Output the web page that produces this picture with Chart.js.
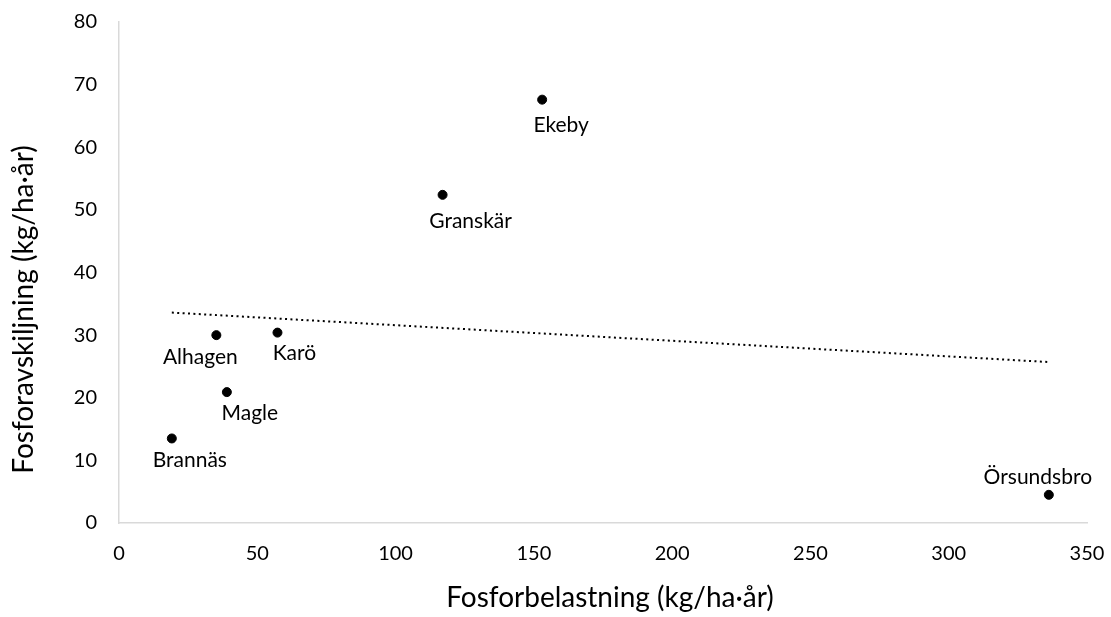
<!DOCTYPE html>
<html>
<head>
<meta charset="utf-8">
<script src="https://cdn.jsdelivr.net/npm/chart.js@4.4.1/dist/chart.umd.min.js"></script>
<style>
  html, body { margin: 0; padding: 0; background: #ffffff; }
  #wrap { width: 1111px; height: 617px; }
</style>
</head>
<body>
<div id="wrap"><canvas id="c" width="1111" height="617"></canvas></div>
<script>
// Wetlands: phosphorus load vs. phosphorus retention
const sites = ['Brannäs', 'Alhagen', 'Magle', 'Karö', 'Granskär', 'Ekeby', 'Örsundsbro'];
const load = [19.1, 35.2, 39.0, 57.3, 117.0, 153.0, 336.2];       // kg/ha·år
const retention = [13.5, 30.0, 20.9, 30.4, 52.4, 67.6, 4.5];     // kg/ha·år

// Linear trend line end points
const trendX = [19.1, 336.2];
const trendY = [33.6, 25.7];

const xTicks = [0, 50, 100, 150, 200, 250, 300, 350];
const yTicks = [0, 10, 20, 30, 40, 50, 60, 70, 80];

const xTitle = 'Fosforbelastning (kg/ha·år)';
const yTitle = 'Fosforavskiljning (kg/ha·år)';

const FONT = 'Lato, "Open Sans", sans-serif';

// Where each site name sits relative to its marker (px)
const labelPlacement = {
  'Brannäs':    [18, 22],
  'Alhagen':    [-16, 22],
  'Magle':      [23, 21],
  'Karö':       [17, 21],
  'Granskär':   [28, 26],
  'Ekeby':      [19, 26],
  'Örsundsbro': [-11, -18]
};

const siteLabels = {
  id: 'siteLabels',
  afterDatasetsDraw(chart) {
    const ctx = chart.ctx;
    const meta = chart.getDatasetMeta(0);
    ctx.save();
    ctx.font = '21px ' + FONT;
    ctx.fillStyle = '#000000';
    ctx.textAlign = 'center';
    ctx.textBaseline = 'middle';
    meta.data.forEach((pt, i) => {
      const name = sites[i];
      const [dx, dy] = labelPlacement[name];
      ctx.fillText(name, pt.x + dx, pt.y + dy);
    });
    ctx.restore();
  }
};

// Axis titles, placed in the margins around the plot area
const axisTitles = {
  id: 'axisTitles',
  afterDraw(chart) {
    const ctx = chart.ctx;
    const area = chart.chartArea;
    ctx.save();
    ctx.font = '28px ' + FONT;
    ctx.fillStyle = '#000000';
    ctx.textAlign = 'center';
    ctx.textBaseline = 'middle';
    ctx.fillText(xTitle, (area.left + area.right) / 2 + 7, area.bottom + 75);
    ctx.translate(24, (area.top + area.bottom) / 2 + 37);
    ctx.rotate(-Math.PI / 2);
    ctx.fillText(yTitle, 0, 0);
    ctx.restore();
  }
};

// Keep the plot area edges fixed: no extra room for overhanging tick labels
function noOverhang(s) {
  s.paddingTop = 0;
  s.paddingBottom = 0;
  s.paddingLeft = 0;
  s.paddingRight = 0;
}

new Chart(document.getElementById('c'), {
  type: 'scatter',
  data: {
    datasets: [
      {
        label: 'Anläggningar',
        data: load.map((x, i) => ({ x: x, y: retention[i] })),
        backgroundColor: '#000000',
        borderColor: '#000000',
        pointRadius: 4.5,
        pointHoverRadius: 4.5,
        order: 1
      },
      {
        type: 'line',
        label: 'Linjär trend',
        data: trendX.map((x, i) => ({ x: x, y: trendY[i] })),
        borderColor: '#000000',
        borderWidth: 2,
        borderDash: [2, 3.4],
        pointRadius: 0,
        fill: false,
        order: 2
      }
    ]
  },
  options: {
    responsive: false,
    animation: false,
    layout: { padding: { top: 22, right: 24, left: 0, bottom: 0 } },
    plugins: {
      legend: { display: false },
      tooltip: { enabled: false }
    },
    scales: {
      x: {
        type: 'linear',
        min: 0,
        max: 350,
        afterBuildTicks: (s) => { s.ticks = xTicks.map(v => ({ value: v })); },
        afterFit: (s) => { s.height = 94; noOverhang(s); },
        grid: { display: false, drawTicks: false },
        border: { display: true, color: '#d9d9d9', width: 1.5 },
        ticks: { color: '#000000', font: { family: FONT, size: 20 }, padding: 19, maxRotation: 0 }
      },
      y: {
        type: 'linear',
        min: 0,
        max: 80,
        afterBuildTicks: (s) => { s.ticks = yTicks.map(v => ({ value: v })); },
        afterFit: (s) => { s.width = 119; noOverhang(s); },
        grid: { display: false, drawTicks: false },
        border: { display: true, color: '#d9d9d9', width: 1.5 },
        ticks: { color: '#000000', font: { family: FONT, size: 20 }, padding: 22 }
      }
    }
  },
  plugins: [siteLabels, axisTitles]
});
</script>
</body>
</html>
